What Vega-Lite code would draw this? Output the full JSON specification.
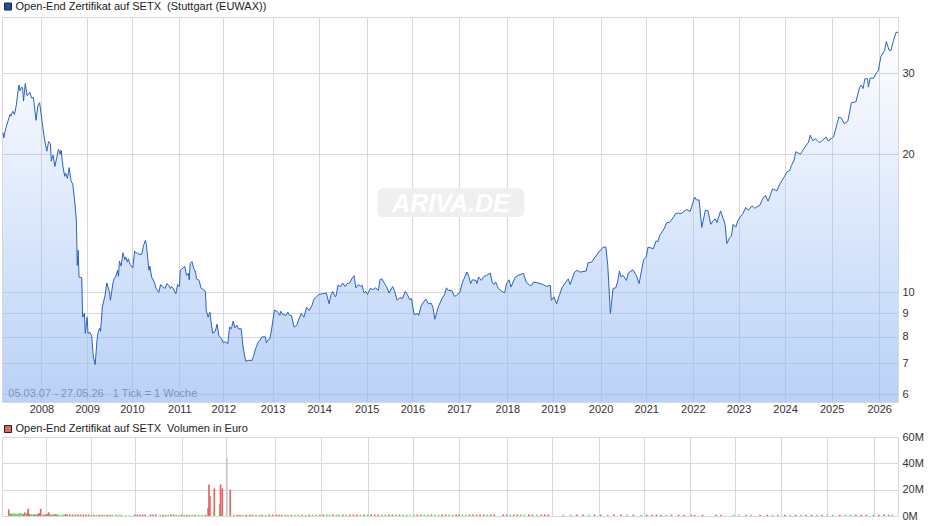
{
  "$schema": "https://vega.github.io/schema/vega-lite/v6.json",
  "description": "Open-End Zertifikat auf SETX, Kurs und Volumen",
  "background": "#fff",
  "padding": {"left": 0, "top": 0, "right": 0, "bottom": 0},
  "bounds": "flush",
  "spacing": 35,
  "resolve": {"scale": {"shape": "independent", "color": "independent"}, "legend": {"shape": "independent"}},
  "config": {
    "view": {"stroke": "#d9d9d9"},
    "font": "Liberation Sans",
    "axis": {"gridColor": "#d9d9d9", "gridOpacity": 1, "domain": false, "ticks": false, "title": null, "labelFont": "Liberation Sans", "labelFontSize": 11, "labelColor": "#333"}
  },
  "datasets": {
    "kurs": [
      {"woche":1,"kurs":22.3},{"woche":2,"kurs":21.7},{"woche":4,"kurs":22.7},{"woche":7,"kurs":23.7},{"woche":9,"kurs":24.4},{"woche":10,"kurs":24.2},{"woche":12,"kurs":24.8},{"woche":14,"kurs":24.4},{"woche":16,"kurs":25.6},{"woche":18,"kurs":27.6},{"woche":19,"kurs":28.3},{"woche":20,"kurs":27.5},{"woche":22,"kurs":28},{"woche":23,"kurs":27.9},{"woche":24,"kurs":26.1},{"woche":26,"kurs":28.5},{"woche":28,"kurs":26.8},{"woche":31,"kurs":27.3},{"woche":33,"kurs":26.5},{"woche":35,"kurs":26.6},{"woche":38,"kurs":23.7},{"woche":40,"kurs":25.5},{"woche":42,"kurs":25.9},{"woche":45,"kurs":23.3},{"woche":47,"kurs":21.8},{"woche":50,"kurs":20.3},{"woche":52,"kurs":21.3},{"woche":54,"kurs":21.1},{"woche":55,"kurs":19.3},{"woche":57,"kurs":19.9},{"woche":59,"kurs":18.8},{"woche":61,"kurs":19.6},{"woche":63,"kurs":20.5},{"woche":65,"kurs":20},{"woche":66,"kurs":20.4},{"woche":68,"kurs":18.8},{"woche":70,"kurs":17.9},{"woche":71,"kurs":18.2},{"woche":73,"kurs":17.7},{"woche":75,"kurs":18.7},{"woche":77,"kurs":17.5},{"woche":79,"kurs":17.2},{"woche":81,"kurs":15.9},
      {"woche":83,"kurs":14.35},{"woche":84,"kurs":11.45},{"woche":85,"kurs":12.35},{"woche":86,"kurs":10.8},{"woche":89,"kurs":10.76},{"woche":90,"kurs":8.83},{"woche":92,"kurs":9},{"woche":93,"kurs":8.14},{"woche":95,"kurs":8.83},{"woche":96,"kurs":8.14},{"woche":98,"kurs":8.18},{"woche":100,"kurs":8.06},{"woche":102,"kurs":7.23},{"woche":104,"kurs":6.96},{"woche":106,"kurs":7.86},{"woche":107,"kurs":8.14},{"woche":109,"kurs":8.35},{"woche":110,"kurs":8.23},{"woche":112,"kurs":9.29},{"woche":115,"kurs":9.85},{"woche":117,"kurs":10.48},{"woche":120,"kurs":10},{"woche":121,"kurs":9.61},{"woche":124,"kurs":10.53},{"woche":125,"kurs":10.7},{"woche":127,"kurs":10.84},{"woche":129,"kurs":11.17},{"woche":130,"kurs":10.84},{"woche":131,"kurs":11.7},{"woche":133,"kurs":11.41},{"woche":135,"kurs":12.2},{"woche":137,"kurs":11.78},{"woche":138,"kurs":11.94},{"woche":140,"kurs":11.64},{"woche":141,"kurs":11.84},{"woche":143,"kurs":11.5},{"woche":146,"kurs":11.3},{"woche":148,"kurs":12.3},{"woche":150,"kurs":12.18},{"woche":151,"kurs":12.18},{"woche":153,"kurs":12.1},{"woche":156,"kurs":12.1},{"woche":158,"kurs":12.66},{"woche":160,"kurs":12.98},{"woche":161,"kurs":12.77},{"woche":164,"kurs":11.17},{"woche":165,"kurs":11.41},{"woche":167,"kurs":10.8},{"woche":170,"kurs":10.53},{"woche":172,"kurs":10.2},{"woche":175,"kurs":10},{"woche":177,"kurs":10.4},{"woche":179,"kurs":10.3},{"woche":182,"kurs":10.2},{"woche":184,"kurs":10.45},{"woche":186,"kurs":10.36},{"woche":188,"kurs":10.2},{"woche":189,"kurs":10.3},{"woche":191,"kurs":10.2},{"woche":194,"kurs":9.93},{"woche":196,"kurs":10.4},{"woche":198,"kurs":10.3},{"woche":199,"kurs":11.17},{"woche":202,"kurs":11.3},{"woche":204,"kurs":11.39},{"woche":206,"kurs":10.89},{"woche":208,"kurs":11},{"woche":209,"kurs":10.65},{"woche":210,"kurs":11.55},{"woche":212,"kurs":11.67},{"woche":214,"kurs":11.26},{"woche":216,"kurs":11.07},{"woche":217,"kurs":10.7},{"woche":220,"kurs":10.62},{"woche":222,"kurs":10.23},{"woche":227,"kurs":10.05},{"woche":228,"kurs":9.14},{"woche":230,"kurs":8.83},{"woche":232,"kurs":9.05},{"woche":235,"kurs":8.15},{"woche":238,"kurs":8.23},{"woche":240,"kurs":8.52},{"woche":242,"kurs":8.06},{"woche":245,"kurs":7.93},{"woche":247,"kurs":7.76},{"woche":249,"kurs":7.81},{"woche":252,"kurs":7.73},{"woche":254,"kurs":8.4},{"woche":256,"kurs":8.33},{"woche":258,"kurs":8.66},{"woche":260,"kurs":8.37},{"woche":262,"kurs":8.48},{"woche":264,"kurs":8.33},{"woche":267,"kurs":8.33},{"woche":269,"kurs":7.6},{"woche":272,"kurs":7.08},{"woche":275,"kurs":7.11},{"woche":279,"kurs":7.11},{"woche":281,"kurs":7.29},{"woche":283,"kurs":7.54},{"woche":286,"kurs":7.8},{"woche":288,"kurs":7.86},{"woche":290,"kurs":8},{"woche":292,"kurs":8},{"woche":294,"kurs":8},{"woche":295,"kurs":7.76},{"woche":297,"kurs":7.89},{"woche":299,"kurs":7.93},{"woche":301,"kurs":8.33},{"woche":304,"kurs":9.14},{"woche":307,"kurs":9.1},{"woche":310,"kurs":8.91},{"woche":311,"kurs":9.1},{"woche":313,"kurs":8.96},{"woche":317,"kurs":8.91},{"woche":319,"kurs":9.05},{"woche":321,"kurs":8.91},{"woche":323,"kurs":8.91},{"woche":326,"kurs":8.4},{"woche":329,"kurs":8.48},{"woche":331,"kurs":8.71},{"woche":334,"kurs":9},{"woche":337,"kurs":8.83},{"woche":340,"kurs":9.27},{"woche":343,"kurs":9.14},{"woche":346,"kurs":9.37},{"woche":348,"kurs":9.65},{"woche":351,"kurs":9.78},{"woche":354,"kurs":9.9},
      {"woche":358,"kurs":9.93},{"woche":362,"kurs":9.97},{"woche":365,"kurs":9.44},{"woche":367,"kurs":9.85},{"woche":369,"kurs":10.05},{"woche":372,"kurs":9.78},{"woche":373,"kurs":9.85},{"woche":375,"kurs":10.36},{"woche":378,"kurs":10.3},{"woche":380,"kurs":10.48},{"woche":383,"kurs":10.3},{"woche":385,"kurs":10.45},{"woche":388,"kurs":10.48},{"woche":391,"kurs":10.76},{"woche":393,"kurs":10.87},{"woche":395,"kurs":10.23},{"woche":398,"kurs":10.4},{"woche":400,"kurs":10.3},{"woche":402,"kurs":10.36},{"woche":404,"kurs":9.97},{"woche":406,"kurs":10.05},{"woche":408,"kurs":9.9},{"woche":411,"kurs":10.2},{"woche":414,"kurs":10.14},{"woche":417,"kurs":10.23},{"woche":420,"kurs":10.1},{"woche":422,"kurs":10.67},{"woche":424,"kurs":10.7},{"woche":427,"kurs":10.45},{"woche":429,"kurs":10.3},{"woche":432,"kurs":9.97},{"woche":436,"kurs":10.3},{"woche":438,"kurs":10.1},{"woche":441,"kurs":9.61},{"woche":444,"kurs":9.74},{"woche":447,"kurs":9.69},{"woche":450,"kurs":10.05},{"woche":452,"kurs":9.93},{"woche":455,"kurs":9.65},{"woche":457,"kurs":9.69},{"woche":460,"kurs":8.94},{"woche":464,"kurs":9},{"woche":465,"kurs":8.91},{"woche":468,"kurs":9.37},{"woche":473,"kurs":9.67},{"woche":476,"kurs":9.44},{"woche":479,"kurs":9.47},{"woche":481,"kurs":9.27},{"woche":483,"kurs":8.74},{"woche":487,"kurs":9.3},{"woche":491,"kurs":9.69},{"woche":494,"kurs":9.9},{"woche":496,"kurs":10.23},{"woche":498,"kurs":10.1},{"woche":502,"kurs":10.1},{"woche":505,"kurs":9.8},{"woche":507,"kurs":9.85},{"woche":511,"kurs":10},{"woche":514,"kurs":10.53},{"woche":519,"kurs":11.07},{"woche":521,"kurs":10.84},{"woche":523,"kurs":10.45},{"woche":525,"kurs":10.65},{"woche":529,"kurs":10.62},{"woche":530,"kurs":10.45},{"woche":532,"kurs":10.8},{"woche":535,"kurs":10.62},{"woche":538,"kurs":10.84},{"woche":541,"kurs":10.89},{"woche":545,"kurs":11.02},{"woche":547,"kurs":10.53},{"woche":549,"kurs":10.4},{"woche":551,"kurs":10.53},{"woche":554,"kurs":10.2},{"woche":558,"kurs":10.05},{"woche":561,"kurs":9.98},{"woche":563,"kurs":10.45},{"woche":566,"kurs":10.65},{"woche":568,"kurs":10.27},{"woche":573,"kurs":10.8},{"woche":576,"kurs":10.89},{"woche":582,"kurs":11},{"woche":585,"kurs":10.53},{"woche":589,"kurs":10.36},{"woche":591,"kurs":10.36},{"woche":593,"kurs":10.53},{"woche":599,"kurs":10.48},{"woche":604,"kurs":10.4},{"woche":608,"kurs":10.3},{"woche":612,"kurs":10.36},{"woche":613,"kurs":9.61},{"woche":616,"kurs":9.78},{"woche":619,"kurs":9.44},{"woche":622,"kurs":9.85},{"woche":625,"kurs":10.23},{"woche":628,"kurs":10.45},{"woche":632,"kurs":10.7},{"woche":634,"kurs":10.4},{"woche":639,"kurs":11.07},{"woche":642,"kurs":11.17},{"woche":645,"kurs":11.07},{"woche":652,"kurs":11.13},{"woche":654,"kurs":11.6},{"woche":658,"kurs":11.64},{"woche":662,"kurs":11.94},{"woche":667,"kurs":12.3},{"woche":671,"kurs":12.55},{"woche":674,"kurs":12.55},{"woche":676,"kurs":11.5},{"woche":679,"kurs":9},{"woche":680,"kurs":9.37},{"woche":682,"kurs":10.2},{"woche":685,"kurs":10.23},{"woche":687,"kurs":10.53},{"woche":689,"kurs":11.13},{"woche":691,"kurs":10.8},{"woche":693,"kurs":10.89},{"woche":697,"kurs":10.62},{"woche":699,"kurs":11.02},{"woche":704,"kurs":11.2},{"woche":708,"kurs":10.89},{"woche":711,"kurs":10.45},
      {"woche":716,"kurs":11.77},{"woche":719,"kurs":11.94},{"woche":721,"kurs":12.55},{"woche":727,"kurs":12.45},{"woche":730,"kurs":12.95},{"woche":732,"kurs":12.88},{"woche":734,"kurs":13.3},{"woche":739,"kurs":13.77},{"woche":742,"kurs":14.2},{"woche":745,"kurs":14.2},{"woche":748,"kurs":14.45},{"woche":752,"kurs":14.85},{"woche":755,"kurs":14.88},{"woche":758,"kurs":14.85},{"woche":764,"kurs":15.15},{"woche":768,"kurs":15},{"woche":773,"kurs":16.13},{"woche":775,"kurs":15.9},{"woche":778,"kurs":15.9},{"woche":781,"kurs":13.85},{"woche":785,"kurs":15.1},{"woche":788,"kurs":15.05},{"woche":791,"kurs":14.07},{"woche":794,"kurs":14.35},{"woche":796,"kurs":14.45},{"woche":798,"kurs":14.2},{"woche":802,"kurs":15.05},{"woche":807,"kurs":14.07},{"woche":809,"kurs":12.77},{"woche":812,"kurs":13.15},{"woche":814,"kurs":13.25},{"woche":816,"kurs":14.07},{"woche":819,"kurs":13.87},{"woche":821,"kurs":14.3},{"woche":824,"kurs":14.6},{"woche":827,"kurs":14.85},{"woche":830,"kurs":15.3},{"woche":833,"kurs":15.1},{"woche":837,"kurs":15.45},{"woche":840,"kurs":15.25},{"woche":846,"kurs":15.5},{"woche":849,"kurs":16},{"woche":852,"kurs":16.25},{"woche":855,"kurs":15.8},{"woche":860,"kurs":16.8},{"woche":865,"kurs":16.65},{"woche":868,"kurs":17.2},{"woche":873,"kurs":17.85},{"woche":876,"kurs":18.3},{"woche":879,"kurs":18.4},{"woche":881,"kurs":18.9},{"woche":884,"kurs":19.4},{"woche":886,"kurs":20.25},{"woche":891,"kurs":20},{"woche":897,"kurs":20.85},{"woche":900,"kurs":21.2},{"woche":902,"kurs":22},{"woche":905,"kurs":21.4},{"woche":908,"kurs":21.6},{"woche":912,"kurs":21.2},{"woche":914,"kurs":21.3},{"woche":920,"kurs":21.8},{"woche":922,"kurs":21.35},{"woche":925,"kurs":21.6},{"woche":928,"kurs":21.8},{"woche":932,"kurs":23.3},{"woche":934,"kurs":24.1},{"woche":937,"kurs":23.95},{"woche":940,"kurs":23.3},{"woche":944,"kurs":23.6},{"woche":948,"kurs":25.9},{"woche":953,"kurs":26},{"woche":957,"kurs":27.9},{"woche":959,"kurs":28.3},{"woche":961,"kurs":27.8},{"woche":963,"kurs":29.2},{"woche":966,"kurs":29.2},{"woche":967,"kurs":28},{"woche":969,"kurs":29.3},{"woche":973,"kurs":29.3},{"woche":976,"kurs":30.1},{"woche":978,"kurs":30.4},{"woche":981,"kurs":32.7},{"woche":985,"kurs":33.6},{"woche":987,"kurs":35.2},{"woche":990,"kurs":33.7},{"woche":992,"kurs":33.6},{"woche":995,"kurs":35.4},{"woche":998,"kurs":36.9},{"woche":1000,"kurs":36.8}
    ],
    "volumen": [
      {"woche":2,"mio":5,"art":"ab"},{"woche":3,"mio":1.8,"art":"auf"},{"woche":4,"mio":2,"art":"auf"},{"woche":5,"mio":1.5,"art":"ab"},{"woche":7,"mio":2,"art":"auf"},{"woche":8,"mio":2,"art":"auf"},{"woche":10,"mio":1.5,"art":"auf"},{"woche":11,"mio":1.8,"art":"auf"},{"woche":13,"mio":1.2,"art":"ab"},{"woche":14,"mio":2.2,"art":"auf"},{"woche":16,"mio":2.2,"art":"auf"},{"woche":17,"mio":1.8,"art":"auf"},{"woche":19,"mio":1.5,"art":"ab"},{"woche":20,"mio":2.8,"art":"ab"},{"woche":22,"mio":1.5,"art":"auf"},{"woche":23,"mio":2.5,"art":"ab"},{"woche":24,"mio":5.5,"art":"ab"},{"woche":25,"mio":1.5,"art":"ab"},{"woche":27,"mio":1.5,"art":"auf"},{"woche":28,"mio":1.2,"art":"auf"},{"woche":30,"mio":1.3,"art":"auf"},{"woche":31,"mio":1.3,"art":"ab"},{"woche":33,"mio":1.2,"art":"auf"},{"woche":34,"mio":1.2,"art":"ab"},{"woche":36,"mio":2.2,"art":"ab"},{"woche":37,"mio":1.5,"art":"ab"},{"woche":38,"mio":5.5,"art":"ab"},{"woche":40,"mio":1.2,"art":"auf"},{"woche":42,"mio":1,"art":"ab"},{"woche":44,"mio":1.2,"art":"ab"},{"woche":45,"mio":1.6,"art":"ab"},{"woche":47,"mio":2.8,"art":"ab"},{"woche":49,"mio":1.2,"art":"ab"},{"woche":51,"mio":1,"art":"auf"},{"woche":52,"mio":1.3,"art":"auf"},{"woche":54,"mio":1.5,"art":"ab"},{"woche":56,"mio":1.3,"art":"ab"},{"woche":57,"mio":1,"art":"auf"},{"woche":59,"mio":1,"art":"auf"},{"woche":62,"mio":1,"art":"auf"},{"woche":64,"mio":1,"art":"auf"},{"woche":66,"mio":1.4,"art":"ab"},{"woche":68,"mio":1.2,"art":"ab"},{"woche":71,"mio":1.2,"art":"ab"},
      {"woche":74,"mio":1.1,"art":"ab"},{"woche":77,"mio":1.1,"art":"ab"},{"woche":80,"mio":1.1,"art":"ab"},{"woche":83,"mio":1.1,"art":"ab"},{"woche":86,"mio":1.1,"art":"ab"},{"woche":89,"mio":1.1,"art":"ab"},{"woche":92,"mio":1.1,"art":"ab"},{"woche":95,"mio":1,"art":"auf"},{"woche":98,"mio":1,"art":"ab"},{"woche":101,"mio":1,"art":"auf"},{"woche":104,"mio":1,"art":"ab"},{"woche":107,"mio":1,"art":"ab"},{"woche":110,"mio":1,"art":"auf"},{"woche":113,"mio":1,"art":"ab"},{"woche":116,"mio":1,"art":"ab"},{"woche":119,"mio":1,"art":"auf"},{"woche":123,"mio":1.1,"art":"auf"},{"woche":126,"mio":1.1,"art":"auf"},{"woche":129,"mio":1.1,"art":"auf"},{"woche":134,"mio":0.8,"art":"neutral"},{"woche":138,"mio":0.8,"art":"neutral"},{"woche":144,"mio":1.1,"art":"ab"},{"woche":147,"mio":1.1,"art":"ab"},{"woche":150,"mio":1.1,"art":"ab"},{"woche":153,"mio":1.1,"art":"ab"},{"woche":156,"mio":1.1,"art":"ab"},{"woche":162,"mio":1.1,"art":"ab"},{"woche":165,"mio":1.1,"art":"ab"},{"woche":168,"mio":1.1,"art":"ab"},{"woche":173,"mio":1,"art":"auf"},{"woche":176,"mio":1,"art":"ab"},{"woche":179,"mio":1,"art":"auf"},{"woche":182,"mio":1,"art":"auf"},{"woche":185,"mio":1.1,"art":"ab"},{"woche":188,"mio":1.1,"art":"ab"},{"woche":191,"mio":1,"art":"auf"},{"woche":194,"mio":1,"art":"auf"},{"woche":197,"mio":1,"art":"ab"},{"woche":200,"mio":1,"art":"auf"},{"woche":203,"mio":1,"art":"ab"},{"woche":206,"mio":1,"art":"auf"},{"woche":209,"mio":1,"art":"auf"},{"woche":212,"mio":1,"art":"ab"},{"woche":216,"mio":1,"art":"auf"},{"woche":220,"mio":1,"art":"auf"},{"woche":224,"mio":1,"art":"ab"},
      {"woche":227,"mio":6,"art":"ab"},{"woche":228,"mio":24,"art":"ab"},{"woche":229,"mio":15,"art":"ab"},{"woche":234,"mio":21,"art":"ab"},{"woche":240,"mio":8.9,"art":"auf"},{"woche":241,"mio":24,"art":"ab"},{"woche":243,"mio":21,"art":"ab"},{"woche":248,"mio":43.8,"art":"neutral"},{"woche":252,"mio":20,"art":"ab"},
      {"woche":256,"mio":1,"art":"auf"},{"woche":260,"mio":1,"art":"ab"},{"woche":263,"mio":1,"art":"ab"},{"woche":266,"mio":1,"art":"auf"},{"woche":270,"mio":1,"art":"ab"},{"woche":274,"mio":1,"art":"ab"},{"woche":277,"mio":1,"art":"ab"},{"woche":281,"mio":1,"art":"auf"},{"woche":285,"mio":1,"art":"auf"},{"woche":288,"mio":1,"art":"ab"},{"woche":292,"mio":1,"art":"auf"},{"woche":296,"mio":1,"art":"ab"},{"woche":300,"mio":1,"art":"ab"},{"woche":304,"mio":1,"art":"ab"},{"woche":307,"mio":1,"art":"ab"},{"woche":310,"mio":1,"art":"ab"},{"woche":314,"mio":1,"art":"auf"},{"woche":317,"mio":1,"art":"auf"},{"woche":321,"mio":1,"art":"ab"},{"woche":325,"mio":1,"art":"auf"},{"woche":329,"mio":1,"art":"auf"},{"woche":333,"mio":1,"art":"ab"},{"woche":337,"mio":1,"art":"auf"},{"woche":341,"mio":1,"art":"ab"},{"woche":345,"mio":1,"art":"auf"},{"woche":349,"mio":1,"art":"auf"},{"woche":353,"mio":1,"art":"ab"},
      {"woche":357,"mio":1.1,"art":"ab"},{"woche":361,"mio":1.1,"art":"auf"},{"woche":364,"mio":1.1,"art":"auf"},{"woche":368,"mio":1.1,"art":"ab"},{"woche":372,"mio":1.1,"art":"auf"},{"woche":375,"mio":1.1,"art":"auf"},{"woche":379,"mio":1.1,"art":"ab"},{"woche":383,"mio":1.1,"art":"auf"},{"woche":387,"mio":1.1,"art":"ab"},{"woche":391,"mio":1.1,"art":"ab"},{"woche":395,"mio":1.1,"art":"ab"},{"woche":399,"mio":1.1,"art":"auf"},{"woche":403,"mio":1.1,"art":"ab"},{"woche":407,"mio":1.1,"art":"auf"},{"woche":411,"mio":1.1,"art":"ab"},{"woche":415,"mio":1.1,"art":"ab"},{"woche":419,"mio":1.1,"art":"ab"},{"woche":423,"mio":1.1,"art":"auf"},{"woche":427,"mio":1.1,"art":"auf"},{"woche":431,"mio":1.1,"art":"ab"},{"woche":435,"mio":1.1,"art":"ab"},{"woche":439,"mio":1.1,"art":"auf"},{"woche":443,"mio":1.1,"art":"ab"},{"woche":447,"mio":1.1,"art":"auf"},{"woche":451,"mio":1.1,"art":"auf"},{"woche":455,"mio":1,"art":"neutral"},{"woche":459,"mio":1.1,"art":"auf"},{"woche":463,"mio":1.1,"art":"ab"},{"woche":467,"mio":1.1,"art":"ab"},{"woche":471,"mio":1.1,"art":"auf"},{"woche":475,"mio":1.1,"art":"auf"},{"woche":479,"mio":1.1,"art":"ab"},{"woche":483,"mio":1.1,"art":"auf"},{"woche":487,"mio":1.1,"art":"auf"},{"woche":491,"mio":1.1,"art":"ab"},{"woche":495,"mio":1.1,"art":"ab"},{"woche":499,"mio":1.1,"art":"auf"},{"woche":503,"mio":1.1,"art":"auf"},{"woche":507,"mio":1.1,"art":"ab"},{"woche":510,"mio":1.1,"art":"ab"},{"woche":514,"mio":1.1,"art":"auf"},{"woche":518,"mio":1.1,"art":"auf"},{"woche":522,"mio":1.1,"art":"ab"},{"woche":526,"mio":1.1,"art":"ab"},{"woche":530,"mio":1.1,"art":"ab"},{"woche":534,"mio":1.1,"art":"ab"},{"woche":538,"mio":1.1,"art":"ab"},{"woche":542,"mio":1.1,"art":"auf"},{"woche":546,"mio":1.1,"art":"ab"},{"woche":550,"mio":1.1,"art":"ab"},{"woche":560,"mio":1.1,"art":"ab"},{"woche":564,"mio":1.1,"art":"ab"},{"woche":568,"mio":1.1,"art":"auf"},{"woche":572,"mio":1.1,"art":"ab"},{"woche":576,"mio":1.1,"art":"ab"},{"woche":580,"mio":1.1,"art":"auf"},{"woche":584,"mio":1,"art":"auf"},{"woche":589,"mio":1.1,"art":"ab"},{"woche":593,"mio":1.1,"art":"ab"},{"woche":598,"mio":1,"art":"auf"},{"woche":603,"mio":1.1,"art":"ab"},{"woche":607,"mio":1.1,"art":"ab"},{"woche":611,"mio":1.1,"art":"ab"},{"woche":628,"mio":1,"art":"auf"},{"woche":636,"mio":1,"art":"auf"},{"woche":643,"mio":1.1,"art":"ab"},{"woche":650,"mio":1.1,"art":"ab"},{"woche":657,"mio":1,"art":"auf"},{"woche":663,"mio":1.1,"art":"ab"},{"woche":670,"mio":1.1,"art":"ab"},{"woche":678,"mio":1,"art":"auf"},{"woche":685,"mio":1.1,"art":"ab"},{"woche":693,"mio":1.1,"art":"ab"},{"woche":700,"mio":1,"art":"auf"},{"woche":707,"mio":1.1,"art":"ab"},
      {"woche":716,"mio":1,"art":"auf"},{"woche":722,"mio":1,"art":"ab"},{"woche":728,"mio":1,"art":"ab"},{"woche":733,"mio":1,"art":"ab"},{"woche":738,"mio":1,"art":"ab"},{"woche":744,"mio":1,"art":"auf"},{"woche":750,"mio":1,"art":"ab"},{"woche":758,"mio":1,"art":"ab"},{"woche":764,"mio":1,"art":"ab"},{"woche":772,"mio":1,"art":"ab"},{"woche":776,"mio":1,"art":"ab"},{"woche":785,"mio":1,"art":"ab"},{"woche":800,"mio":1,"art":"ab"},{"woche":806,"mio":1,"art":"ab"},{"woche":820,"mio":1,"art":"auf"},{"woche":826,"mio":1,"art":"auf"},{"woche":834,"mio":1,"art":"ab"},{"woche":840,"mio":1,"art":"auf"},{"woche":850,"mio":1,"art":"ab"},{"woche":858,"mio":1,"art":"ab"},{"woche":864,"mio":1,"art":"auf"},{"woche":870,"mio":1,"art":"auf"},{"woche":878,"mio":1,"art":"ab"},{"woche":884,"mio":1,"art":"auf"},{"woche":890,"mio":1,"art":"ab"},{"woche":896,"mio":1,"art":"auf"},{"woche":902,"mio":1,"art":"ab"},{"woche":908,"mio":1,"art":"ab"},{"woche":914,"mio":1,"art":"auf"},{"woche":920,"mio":1,"art":"ab"},{"woche":926,"mio":1,"art":"auf"},{"woche":932,"mio":1,"art":"auf"},{"woche":940,"mio":1,"art":"ab"},{"woche":946,"mio":1,"art":"auf"},{"woche":952,"mio":1,"art":"auf"},{"woche":958,"mio":1,"art":"ab"},{"woche":964,"mio":1,"art":"ab"},{"woche":970,"mio":1,"art":"ab"},{"woche":978,"mio":1,"art":"auf"},{"woche":984,"mio":1,"art":"ab"},{"woche":990,"mio":1.1,"art":"ab"},{"woche":995,"mio":1.1,"art":"ab"},{"woche":999,"mio":1,"art":"auf"}
    ]
  },
  "vconcat": [
    {
      "width": 896,
      "height": 385,
      "encoding": {
        "x": {
          "field": "woche",
          "type": "quantitative",
          "scale": {"domain": [0, 1000], "nice": false, "zero": false},
          "axis": {"values": [44,95,145,198,247,302,354,407,458,510,564,615,668,719,771,822,874,926,979], "labelExpr": "2008 + round(datum.index * 18)", "labelPadding": 1, "labelFlush": false, "labelOverlap": false}
        },
        "y": {
          "field": "kurs",
          "type": "quantitative",
          "scale": {"type": "log", "domain": [5.77, 39.8], "nice": false},
          "axis": {"orient": "right", "values": [6,7,8,9,10,20,30], "format": "d", "labelPadding": 4, "labelOverlap": false}
        }
      },
      "layer": [
        {
          "data": {"values": [{"von": 419, "bis": 583, "unten": 14.6, "oben": 16.85}]},
          "mark": {"type": "rect", "fill": "#efefef", "cornerRadius": 6},
          "encoding": {
            "x": {"field": "von", "type": "quantitative"},
            "x2": {"field": "bis"},
            "y": {"field": "unten", "type": "quantitative"},
            "y2": {"field": "oben"}
          }
        },
        {
          "data": {"values": [{"woche": 501, "kurs": 15.6, "text": "ARIVA.DE"}]},
          "mark": {"type": "text", "fontSize": 25, "fontWeight": "bold", "fontStyle": "italic", "color": "#fff", "align": "center", "baseline": "middle"},
          "encoding": {"text": {"field": "text"}}
        },
        {
          "data": {"name": "kurs"},
          "mark": {
            "type": "area",
            "color": {
              "gradient": "linear",
              "x1": 1, "y1": 0, "x2": 1, "y2": 1,
              "stops": [
                {"offset": 0, "color": "rgba(148,185,243,0)"},
                {"offset": 1, "color": "rgba(148,185,243,0.65)"}
              ]
            }
          },
          "encoding": {"y2": {"datum": 5.77}}
        },
        {
          "data": {"name": "kurs"},
          "mark": {"type": "line", "color": "#2a62c0", "strokeWidth": 1}
        },
        {
          "data": {"values": [{"woche": 7, "kurs": 6, "text": "05.03.07 - 27.05.26 \u00a0 1 Tick = 1 Woche"}]},
          "mark": {"type": "text", "fontSize": 11, "color": "#000", "opacity": 0.3, "align": "left", "baseline": "middle"},
          "encoding": {"text": {"field": "text"}}
        },
        {
          "data": {"values": [{"woche": 500, "kurs": 20, "serie": "Open-End Zertifikat auf SETX \u00a0(Stuttgart (EUWAX))"}]},
          "mark": {"type": "point", "size": 0, "filled": true, "color": "#1c4fa8", "stroke": "#222"},
          "encoding": {
            "shape": {
              "field": "serie",
              "type": "nominal",
              "scale": {"range": ["square"]},
              "legend": {"title": null, "orient": "none", "legendX": 0.5, "legendY": -16, "padding": 0, "symbolSize": 49, "symbolStrokeWidth": 1, "symbolOpacity": 1, "labelFont": "Liberation Sans", "labelFontSize": 11, "labelColor": "#222", "labelLimit": 400, "labelOffset": 2}
            }
          }
        }
      ]
    },
    {
      "width": 896,
      "height": 79,
      "encoding": {
        "x": {
          "field": "woche",
          "type": "quantitative",
          "scale": {"domain": [0, 1000], "nice": false, "zero": false},
          "axis": {"values": [44,95,145,198,247,302,354,407,458,510,564,615,668,719,771,822,874,926,979], "labels": false}
        },
        "y": {
          "field": "mio",
          "type": "quantitative",
          "scale": {"domain": [0, 60], "nice": false},
          "axis": {"orient": "right", "values": [0,20,40,60], "labelExpr": "datum.value + 'M'", "labelPadding": 4, "labelOverlap": false}
        }
      },
      "layer": [
        {
          "data": {"name": "volumen"},
          "mark": {"type": "bar", "width": 1.7},
          "encoding": {
            "color": {
              "field": "art",
              "type": "nominal",
              "scale": {"domain": ["ab", "auf", "neutral"], "range": ["#e06666", "#66dd66", "#c4c4c4"]},
              "legend": null
            }
          }
        },
        {
          "data": {"values": [{"woche": 500, "mio": 30, "serie": "Open-End Zertifikat auf SETX \u00a0Volumen in Euro"}]},
          "mark": {"type": "point", "size": 0, "filled": true, "color": "#e06666", "stroke": "#222"},
          "encoding": {
            "shape": {
              "field": "serie",
              "type": "nominal",
              "scale": {"range": ["square"]},
              "legend": {"title": null, "orient": "none", "legendX": 0.5, "legendY": -13.5, "padding": 0, "symbolSize": 49, "symbolStrokeWidth": 1, "symbolOpacity": 1, "labelFont": "Liberation Sans", "labelFontSize": 11, "labelColor": "#222", "labelLimit": 400, "labelOffset": 2}
            }
          }
        }
      ]
    }
  ]
}
